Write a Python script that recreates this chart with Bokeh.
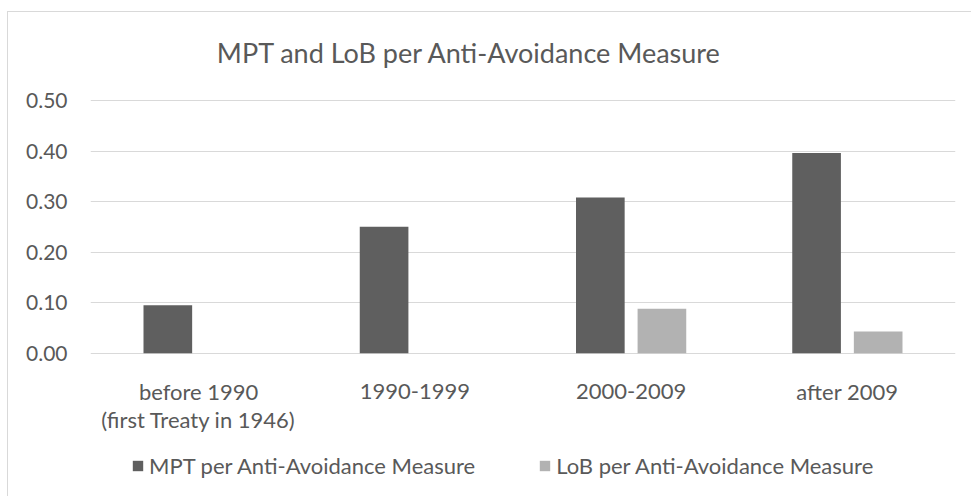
from bokeh.plotting import figure
from bokeh.models import FactorRange, Legend, LegendItem, Label, NumeralTickFormatter, FixedTicker, Range1d
from bokeh.core.properties import value
from bokeh.transform import dodge
from bokeh.embed import file_html
from bokeh.resources import INLINE

categories = ["before 1990", "1990-1999", "2000-2009", "after 2009"]
label_line1 = ["before 1990", "1990-1999", "2000-2009", "after 2009"]
label_line2 = ["(first Treaty in 1946)", "", "", ""]
mpt_values = [0.095, 0.250, 0.308, 0.396]
lob_values = [0.0, 0.0, 0.088, 0.043]
series_names = ["MPT per Anti-Avoidance Measure", "LoB per Anti-Avoidance Measure"]
y_ticks = [0.0, 0.1, 0.2, 0.3, 0.4, 0.5]
title_text = "MPT and LoB per Anti-Avoidance Measure"

FONT = "Lato"
TXT = "#595959"
GRID = "#d9d9d9"
MPT_COLOR = "#5f5f5f"
LOB_COLOR = "#b2b2b2"

# layout (canvas px): frame spans the whole canvas height so texts below are not clipped
W, H = 964, 485
FRAME_TOP_PX = 88.0      # canvas y of value 0.5
FRAME_ZERO_PX = 340.7    # canvas y of value 0.0
PX_PER_UNIT = (FRAME_ZERO_PX - FRAME_TOP_PX) / 0.5
y_hi = 0.5 + FRAME_TOP_PX / PX_PER_UNIT
y_lo = -(H - FRAME_ZERO_PX) / PX_PER_UNIT

def y_at(canvas_y):
    return (FRAME_ZERO_PX - canvas_y) / PX_PER_UNIT

p = figure(
    x_range=FactorRange(*categories, range_padding=0),
    y_range=Range1d(y_lo, y_hi),
    width=W, height=H,
    output_backend="svg", toolbar_location=None,
    min_border_left=82, min_border_right=17, min_border_top=0, min_border_bottom=0,
)
p.styles = {"border-left": "1px solid #d9d9d9", "border-top": "1px solid #d9d9d9",
            "margin": "11px 0 0 7px"}
p.outline_line_color = None
p.background_fill_color = "white"
p.border_fill_color = "white"
p.xaxis.visible = False

src = dict(cat=categories, mpt=mpt_values, lob=lob_values)
r1 = p.vbar(x=dodge("cat", -0.1424, range=p.x_range), top="mpt", width=0.225, source=src,
            fill_color=MPT_COLOR, line_color=None)
r2 = p.vbar(x=dodge("cat", 0.1424, range=p.x_range), top="lob", width=0.225, source=src,
            fill_color=LOB_COLOR, line_color=None)

# y axis
p.yaxis.ticker = FixedTicker(ticks=y_ticks)
p.yaxis.formatter = NumeralTickFormatter(format="0.00")
p.yaxis.axis_line_color = None
p.yaxis.major_tick_line_color = None
p.yaxis.minor_tick_line_color = None
p.yaxis.major_label_text_font = FONT
p.yaxis.major_label_text_font_size = "21px"
p.yaxis.major_label_text_color = TXT
p.yaxis.major_label_standoff = 17

p.xgrid.grid_line_color = None
p.ygrid.grid_line_color = GRID
p.ygrid.grid_line_width = 1

# category labels (two lines for the first category)
p.text(x=categories, y=[y_at(379)] * len(categories), text=label_line1,
       text_font=value(FONT), text_font_size="22px", text_color=TXT,
       text_align="center", text_baseline="middle")
p.text(x=categories, y=[y_at(407)] * len(categories), text=label_line2,
       text_font=value(FONT), text_font_size="22px", text_color=TXT,
       text_align="center", text_baseline="middle")

# title
p.add_layout(Label(x=379, y=H - 40, x_units="screen", y_units="screen", text=title_text,
                   text_font=FONT, text_font_size="27px", text_color=TXT,
                   text_align="center", text_baseline="alphabetic"))

legend = Legend(
    items=[LegendItem(label=series_names[0], renderers=[r1]),
           LegendItem(label=series_names[1], renderers=[r2])],
    orientation="horizontal",
    location=(41, 18),
    glyph_width=13, glyph_height=13, label_standoff=5, spacing=63,
    padding=0, margin=0, border_line_color=None, background_fill_alpha=0,
    label_text_font=FONT, label_text_font_size="22px", label_text_color=TXT,
)
p.add_layout(legend, "center")

open("out.html", "w").write(file_html(p, INLINE))
